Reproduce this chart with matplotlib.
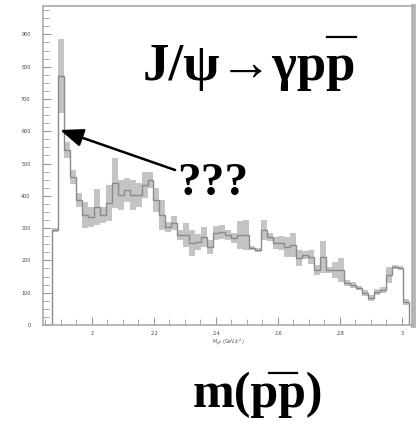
import numpy as np
import matplotlib
matplotlib.use("Agg")
import matplotlib.pyplot as plt
from matplotlib.lines import Line2D

# ---- data ----
bin_start = 1.872          # GeV/c^2
bin_width = 0.0192
counts = [294, 771, 542, 458, 387, 341, 334, 365, 341, 378,
          440, 402, 418, 402, 402, 433, 449, 387, 341, 303,
          316, 279, 279, 254, 257, 272, 241, 285, 288, 279,
          269, 279, 279, 238, 232, 294, 272, 254, 254, 241,
          248, 207, 217, 211, 170, 211, 170, 170, 170, 130,
          124, 115, 99, 84, 102, 108, 155, 180, 176, 71]
errors = [6, 115, 25, 22, 22, 40, 31, 56, 25, 56,
          77, 46, 37, 46, 37, 40, 25, 37, 46, 15,
          22, 15, 37, 40, 25, 31, 22, 22, 22, 15,
          15, 43, 46, 6, 6, 31, 12, 19, 22, 31,
          37, 25, 12, 22, 15, 50, 9, 25, 37, 9,
          9, 6, 9, 9, 9, 9, 25, 6, 6, 9]
x_ticks = [2.0, 2.2, 2.4, 2.6, 2.8, 3.0]
x_ticklabels = ["2", "2.2", "2.4", "2.6", "2.8", "3"]
y_ticks = [0, 100, 200, 300, 400, 500, 600, 700, 800, 900]
title_text = "J/ψ→γpp"
question_text = "???"
bottom_text = "m(pp)"

counts = np.array(counts, float)
errors = np.array(errors, float)
edges = bin_start + bin_width * np.arange(len(counts) + 1)

W, H = 419, 430
fig = plt.figure(figsize=(W / 100, H / 100), dpi=100)
ax = fig.add_axes([43 / W, (H - 325) / H, (413 - 43) / W, (325 - 6) / H])

# error boxes
ax.bar(edges[:-1], 2 * errors, bottom=counts - errors, width=bin_width,
       align="edge", color="#c4c4c4", edgecolor="none", zorder=1)
# histogram outline
ax.stairs(counts, edges, baseline=0, color="#8a8a8a", lw=1.0, zorder=2)

ax.set_xlim(1.842, 3.0355)
ax.set_ylim(0, 988)
ax.set_xticks(x_ticks)
ax.set_xticklabels(x_ticklabels)
ax.set_xticks(np.arange(1.85, 3.03, 0.05), minor=True)
ax.set_yticks(y_ticks)
ax.set_yticklabels([str(v) for v in y_ticks])
ax.set_yticks(np.arange(0, 988, 25), minor=True)
ax.tick_params(which="both", direction="in", color="#999999",
               labelsize=3.5, labelcolor="#444444")
ax.tick_params(axis="y", pad=9)
ax.tick_params(axis="x", pad=4)
ax.tick_params(which="major", length=6, width=0.8)
ax.tick_params(which="minor", length=4, width=0.6)
ax.set_xlabel(r"M$_{p\bar{p}}$ (GeV/c$^2$)", fontsize=3.5, color="#555555",
              labelpad=1)

for s in ["left", "bottom", "top"]:
    ax.spines[s].set_color("#aaaaaa")
    ax.spines[s].set_linewidth(1.2)
ax.spines["right"].set_color("#b5b5b5")
ax.spines["right"].set_linewidth(3.5)

serif = ["Liberation Serif", "DejaVu Serif"]

# arrow pointing at the threshold enhancement
ax.annotate("", xy=(1.897, 604), xytext=(2.268, 480),
            arrowprops=dict(arrowstyle="-|>,head_length=1.4,head_width=0.55",
                            color="black", lw=1.8, shrinkA=0, shrinkB=0))

t1 = fig.text(143 / W, 1 - 80 / H, title_text, family=serif,
              fontweight="bold", fontsize=38, ha="left", va="baseline")
tq = fig.text(213 / W, 1 - 195 / H, question_text, family=serif,
              fontweight="bold", fontsize=34, ha="center", va="baseline")
t2 = fig.text(193 / W, 1 - 407 / H, bottom_text,
              family=serif, fontweight="bold", fontsize=36,
              ha="left", va="baseline")

# overlines above the antiproton "p"
fig.canvas.draw()
r = fig.canvas.get_renderer()


def text_width(s, size):
    tmp = fig.text(0, 0, s, family=serif, fontweight="bold", fontsize=size)
    w = tmp.get_window_extent(r).width
    tmp.remove()
    return w


def overline(txt, full, n_tail, y_px, shift_px=0.0):
    bb = txt.get_window_extent(r)
    size = txt.get_fontsize()
    x0 = bb.x0 + text_width(full[:len(full) - n_tail], size)
    wp = text_width("p", size)
    x0 += shift_px
    fig.add_artist(Line2D([x0 / W, (x0 + wp) / W],
                          [1 - y_px / H, 1 - y_px / H],
                          color="black", lw=1.6, transform=fig.transFigure))


overline(t1, title_text, 1, 37)
overline(t2, bottom_text, 2, 373, shift_px=-10)

fig.savefig("out.png", dpi=100)
